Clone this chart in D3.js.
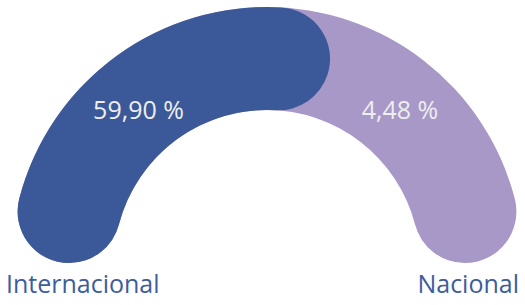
<!DOCTYPE html>
<html>
<head>
<meta charset="utf-8">
<script src="https://cdn.jsdelivr.net/npm/d3@7"></script>
<style>
  body { margin: 0; background: white; }
  svg { display: block; font-family: "Open Sans", sans-serif; }
</style>
</head>
<body>
<svg width="525" height="305"></svg>
<script>
// gauge data
var categories = ["Internacional", "Nacional"];
var values = [59.90, 4.48];
var valueLabels = ["59,90 %", "4,48 %"];
var colors = ["#3b5998", "#a898c8"];

var svg = d3.select("svg");

var cx = 267, cy = 263,
    outerR = 256, innerR = 153;

// 0..100 % mapped onto the half circle
var angle = d3.scaleLinear()
    .domain([0, 100])
    .range([-Math.PI / 2, Math.PI / 2]);

var arc = d3.arc()
    .innerRadius(innerR)
    .outerRadius(outerR)
    .cornerRadius((outerR - innerR) / 2);

var g = svg.append("g")
    .attr("transform", "translate(" + cx + "," + cy + ")");

// purple track behind, blue value on top
g.append("path")
    .attr("d", arc({ startAngle: angle(0), endAngle: angle(100) }))
    .attr("fill", colors[1]);

g.append("path")
    .attr("d", arc({ startAngle: angle(0), endAngle: angle(values[0]) }))
    .attr("fill", colors[0]);

// value labels, one on each side of the gauge
var labelX = [-128.5, 133],
    labelY = -153;
g.selectAll("text.val")
    .data(valueLabels)
    .enter()
    .append("text")
    .attr("class", "val")
    .attr("x", (d, i) => labelX[i])
    .attr("y", labelY)
    .attr("dy", "0.35em")
    .attr("text-anchor", "middle")
    .attr("fill", "#eeeeee")
    .style("font-size", "25px")
    .text(d => d);

// category labels under the ends
svg.append("text")
    .attr("x", 6)
    .attr("y", 293)
    .attr("fill", "#3d5d9b")
    .style("font-size", "25px")
    .text(categories[0]);

svg.append("text")
    .attr("x", 519)
    .attr("y", 293)
    .attr("text-anchor", "end")
    .attr("fill", "#3d5d9b")
    .style("font-size", "25px")
    .text(categories[1]);
</script>
</body>
</html>
